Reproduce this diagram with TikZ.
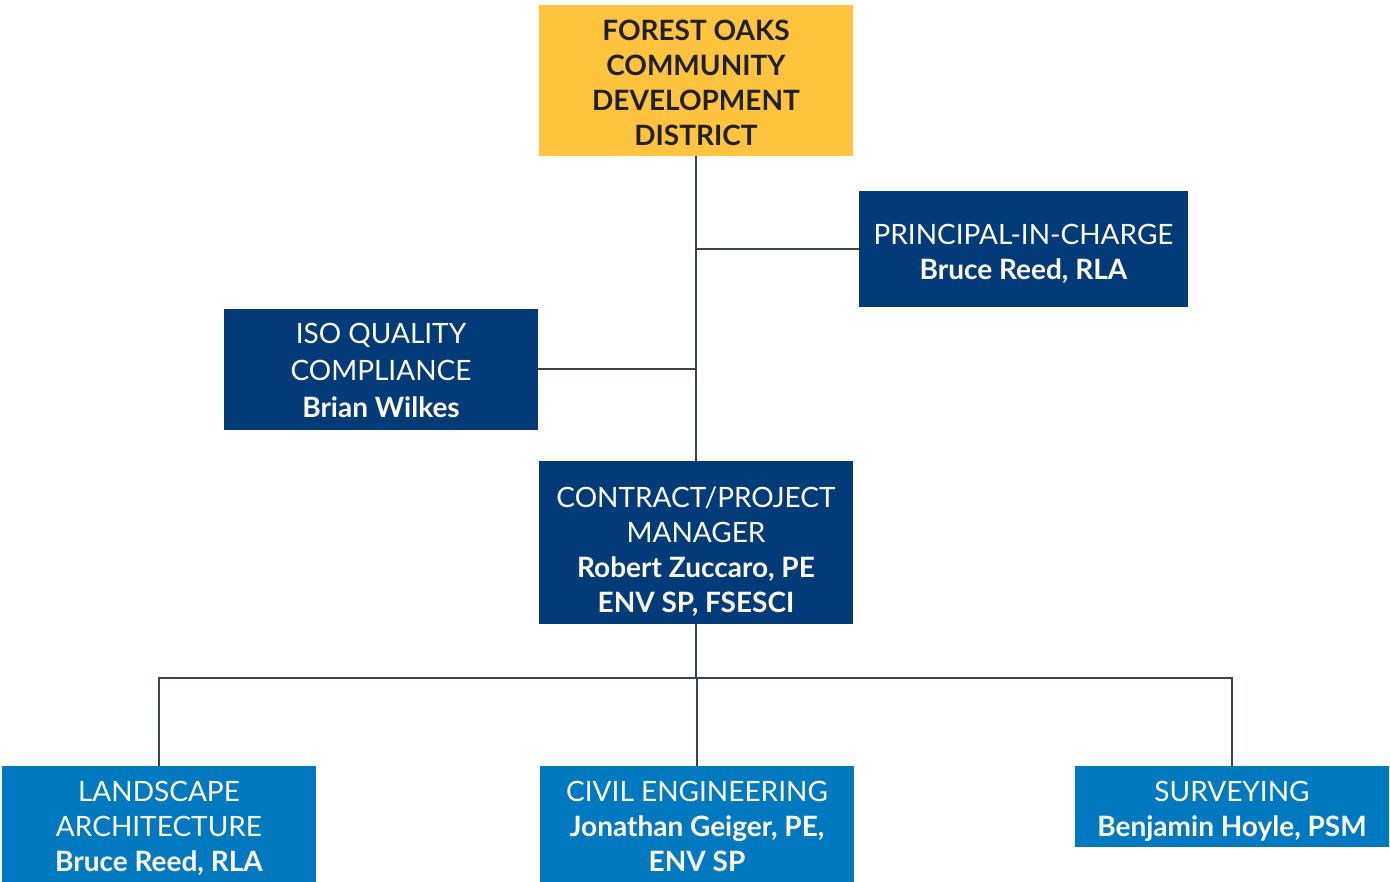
\documentclass[tikz,border=0pt]{standalone}
\usepackage{fontspec}
\setmainfont{Lato}
\definecolor{gold}{HTML}{FEC43D}
\definecolor{navy}{HTML}{023B78}
\definecolor{midblue}{HTML}{0079C1}
\definecolor{ink}{HTML}{231F20}
\definecolor{wire}{HTML}{3B4250}
\begin{document}
\begin{tikzpicture}[x=0.75pt, y=-0.75pt, every node/.style={rectangle, align=center, inner sep=0pt, font=\fontsize{21}{26.25}\selectfont}]
    \useasboundingbox (0,0) rectangle (1390,882);

    % Boxes (text sits a little below the box centre)
    \node (district) [{fill=gold, minimum width=235.5pt, minimum height=113.25pt, label={[text=ink, yshift=-1.5pt]center:{\textbf{FOREST OAKS}\\\textbf{COMMUNITY}\\\textbf{DEVELOPMENT}\\\textbf{DISTRICT}}}}] at (696,80.5) {};
    \node (principal) [{fill=navy, minimum width=246.75pt, minimum height=87pt, label={[text=white, yshift=-3.75pt]center:{PRINCIPAL-IN-CHARGE\\\textbf{Bruce Reed, RLA}}}}] at (1023.5,249) {};
    \node (iso) [{fill=navy, minimum width=235.5pt, minimum height=90.75pt, label={[text=white, yshift=-1pt, font=\fontsize{21}{28}\selectfont]center:{ISO QUALITY\\COMPLIANCE\\\textbf{Brian Wilkes}}}}] at (381,369) {};
    \node (manager) [{fill=navy, minimum width=235.5pt, minimum height=122.25pt, label={[text=white, yshift=-7pt]center:{CONTRACT/PROJECT\\MANAGER\\\textbf{Robert Zuccaro, PE}\\\textbf{ENV SP, FSESCI}}}}] at (696,542.5) {};
    \node (landscape) [{fill=midblue, minimum width=235.5pt, minimum height=90pt, label={[text=white, yshift=-1.5pt]center:{LANDSCAPE\\ARCHITECTURE\\\textbf{Bruce Reed, RLA}}}}] at (159,826) {};
    \node (civil) [{fill=midblue, minimum width=235.5pt, minimum height=90pt, label={[text=white]center:{CIVIL ENGINEERING\\\textbf{Jonathan Geiger, PE,}\\\textbf{ENV SP}}}}] at (697,826) {};
    \node (surveying) [{fill=midblue, minimum width=235.5pt, minimum height=60.75pt, label={[text=white, yshift=-3.75pt]center:{SURVEYING\\\textbf{Benjamin Hoyle, PSM}}}}] at (1232,806.5) {};

    % Reporting lines
    \draw[wire, line width=1.5pt] (district) -- (manager);
    \draw[wire, line width=1.5pt] (principal.west) -- (principal.west -| district.south);
    \draw[wire, line width=1.5pt] (iso.east) -- (iso.east -| district.south);

    % Split to the three disciplines
    \coordinate (split) at (696,678);
    \draw[wire, line width=1.5pt] (manager) -- (split);
    \draw[wire, line width=1.5pt] (landscape.north) |- (split) -| (surveying.north);
    \draw[wire, line width=1.5pt] (split) -- (split -| civil.north) -- (civil.north);

\end{tikzpicture}
\end{document}
